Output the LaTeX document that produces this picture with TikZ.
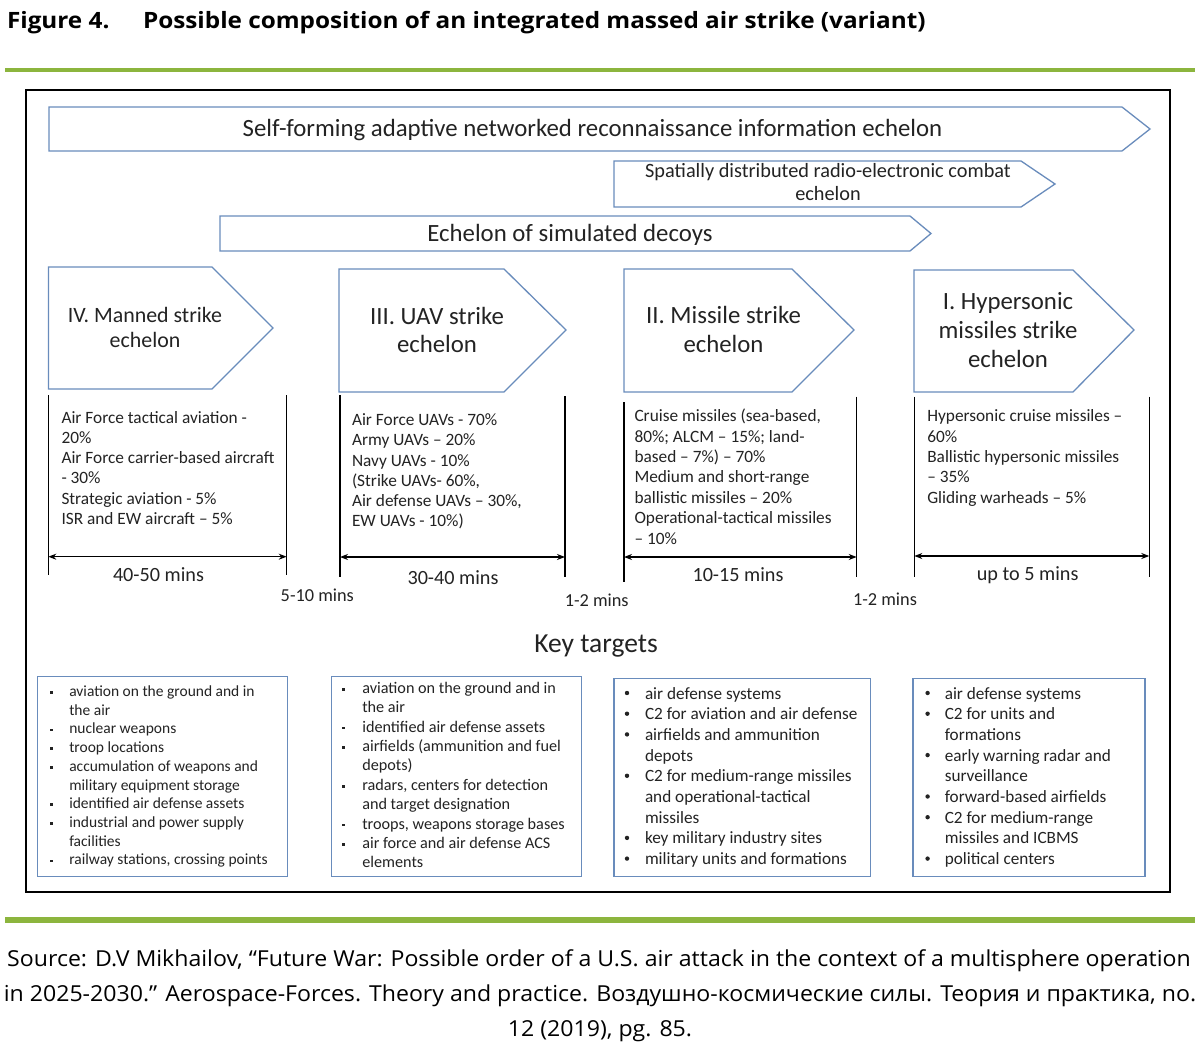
\documentclass[tikz,border=0pt]{standalone}
\usepackage{fontspec}
\setmainfont{Carlito}
\newfontfamily\osanst{Open Sans}[FakeStretch=1.08]
\newfontfamily\osanss{Open Sans}[FakeStretch=1.05]
\usetikzlibrary{arrows.meta}
\definecolor{bluec}{RGB}{105,140,188}
\definecolor{greenc}{RGB}{140,181,62}
\definecolor{txtg}{RGB}{35,35,35}
\newcommand\myfs[1]{\fontsize{#1}{#1}\selectfont}
\tikzset{
  tx/.style={inner sep=0pt, outer sep=0pt, text=txtg},
  small/.style={tx, font=\myfs{17.3}, anchor=base west},
  timel/.style={tx, font=\myfs{20.2}, anchor=base},
  gapl/.style={tx, font=\myfs{18.3}, anchor=base},
  ech/.style={tx, font=\myfs{24.8}, anchor=base},
  srcl/.style={tx, text=black, font=\osanss\myfs{22}, anchor=base},
  ttl/.style={tx, text=black, font=\osanst\bfseries\myfs{22.5}, anchor=base west},
  bluebox/.style={draw=bluec, line width=1.3pt, fill=white},
  vline/.style={draw=black, line width=1.3pt},
  tarrow/.style={{Stealth[length=8pt,width=6pt]}-{Stealth[length=8pt,width=6pt]}, line width=1.3pt, draw=black},
  greenrule/.style={draw=greenc},
}
\begin{document}
\begin{tikzpicture}[x=1pt,y=-1pt]
\useasboundingbox (0,0) rectangle (1200,1059);
\fill[white] (0,0) rectangle (1200,1059);

% title
\node[ttl] (fig) at (7,28.3) {Figure 4.};
\node[ttl] (title) at (143,28.3) {Possible composition of an integrated massed air strike (variant)};

% green rules
\draw[greenrule, line width=4pt] (5,70) -- (1195,70);
\draw[greenrule, line width=6pt] (5,920) -- (1195,920);

% outer frame
\draw[line width=2pt, black] (26,90) rectangle (1170,892);

% banners
\draw[bluebox] (49,107) -- (1122,107) -- (1150,129) -- (1122,151) -- (49,151) -- cycle;
\node[ech] (b1) at (592.5,136.7) {Self-forming adaptive networked reconnaissance information echelon};
\draw[bluebox] (614,161) -- (1021,161) -- (1055,184) -- (1021,207) -- (614,207) -- cycle;
\node[ech, font=\myfs{20.3}] (b2a) at (828,178) {Spatially distributed radio-electronic combat};
\node[ech, font=\myfs{20.3}] (b2b) at (828,201) {echelon};
\draw[bluebox] (220,216) -- (910,216) -- (931,233.5) -- (910,251) -- (220,251) -- cycle;
\node[ech] (b3) at (570,241.7) {Echelon of simulated decoys};

% echelon pentagons
\draw[bluebox] (48.5,267) -- (212,267) -- (273,328) -- (212,389) -- (48.5,389) -- cycle;
\node[ech, font=\myfs{21.9}] (e4a) at (145,322.7) {IV. Manned strike};
\node[ech, font=\myfs{21.9}] (e4b) at (145,347.7) {echelon};
\draw[bluebox] (339,269) -- (504,269) -- (566,330) -- (504,392) -- (339,392) -- cycle;
\node[ech] (e3a) at (437,324.3) {III. UAV strike};
\node[ech] (e3b) at (437,352.7) {echelon};
\draw[bluebox] (624,269) -- (792,269) -- (854,330) -- (792,392) -- (624,392) -- cycle;
\node[ech] (e2a) at (723.5,324) {II. Missile strike};
\node[ech] (e2b) at (723.5,353) {echelon};
\draw[bluebox] (914,270) -- (1073,270) -- (1134,330) -- (1073,392) -- (914,392) -- cycle;
\node[ech] (e1a) at (1008,310) {I. Hypersonic};
\node[ech] (e1b) at (1008,339) {missiles strike};
\node[ech] (e1c) at (1008,368) {echelon};

% timeline vertical lines
\draw[vline] (48.3,395) -- (48.3,575);
\draw[vline] (286.7,395) -- (286.7,575);
\draw[vline] (340,395) -- (340,577);
\draw[vline] (565,396) -- (565,577);
\draw[vline] (624,402) -- (624,582);
\draw[vline] (856.7,396.7) -- (856.7,576.7);
\draw[vline] (914.3,396.7) -- (914.3,576.7);
\draw[vline] (1149.3,396.7) -- (1149.3,576.7);

% arrows
\coordinate (a4l) at (48.3,556.7); \coordinate (a4r) at (286.7,556.7);
\coordinate (a3l) at (340,557); \coordinate (a3r) at (565,557);
\coordinate (a2l) at (624,557); \coordinate (a2r) at (856.7,557);
\coordinate (a1l) at (914.3,556); \coordinate (a1r) at (1149.3,556);
\draw[tarrow] (a4l) -- (a4r);
\draw[tarrow] (a3l) -- (a3r);
\draw[tarrow] (a2l) -- (a2r);
\draw[tarrow] (a1l) -- (a1r);

% time labels
\node[timel] (t4) at (158.5,581.7) {40-50 mins};
\node[gapl] (g43) at (317.3,601) {5-10 mins};
\node[timel] (t3) at (453,584) {30-40 mins};
\node[gapl] (g32) at (596.7,606) {1-2 mins};
\node[timel] (t2) at (738,581.7) {10-15 mins};
\node[gapl] (g21) at (885,605.7) {1-2 mins};
\node[timel] (t1) at (1027.7,580) {up to 5 mins};

% column texts
\foreach \t [count=\i from 0] in {{Air Force tactical aviation -},{20\%},{Air Force carrier-based aircraft},{- 30\%},{Strategic aviation - 5\%},{ISR and EW aircraft – 5\%}}
  \node[small] (c4l\i) at (61.5,423+20.3*\i) {\t};
\foreach \t [count=\i from 0] in {{Air Force UAVs - 70\%},{Army UAVs – 20\%},{Navy UAVs - 10\%},{(Strike UAVs- 60\%,},{Air defense UAVs – 30\%,},{EW UAVs - 10\%)}}
  \node[small] (c3l\i) at (352,425.7+20.2*\i) {\t};
\foreach \t [count=\i from 0] in {{Cruise missiles (sea-based,},{80\%; ALCM – 15\%; land-},{based – 7\%) – 70\%},{Medium and short-range},{ballistic missiles – 20\%},{Operational-tactical missiles},{– 10\%}}
  \node[small] (c2l\i) at (634.5,421.7+20.4*\i) {\t};
\foreach \t [count=\i from 0] in {{Hypersonic cruise missiles –},{60\%},{Ballistic hypersonic missiles},{– 35\%},{Gliding warheads – 5\%}}
  \node[small] (c1l\i) at (927.3,421.7+20.4*\i) {\t};

% key targets
\node[tx, font=\myfs{27.5}, anchor=base] (kt) at (596,652) {Key targets};

\draw[bluebox] (37.3,676.7) rectangle (287.5,876.7);
\draw[bluebox] (331.8,676.7) rectangle (581.6,876.7);
\draw[bluebox] (614,678.3) rectangle (870.5,876.7);
\draw[bluebox] (913,678.3) rectangle (1145,876.7);

\foreach \b/\t [count=\i from 0] in {1/{aviation on the ground and in},0/{the air},1/{nuclear weapons},1/{troop locations},1/{accumulation of weapons and},0/{military equipment storage},1/{identified air defense assets},1/{industrial and power supply},0/{facilities},1/{railway stations, crossing points}}{
  \node[small, font=\myfs{15.5}] (kA\i) at (69.3,696.5+18.7*\i) {\t};
  \ifnum\b=1 \fill[txtg] (50.4,696.5+18.7*\i-5.3) rectangle +(2.6,2.6); \fi
}
\foreach \b/\t [count=\i from 0] in {1/{aviation on the ground and in},0/{the air},1/{identified air defense assets},1/{airfields (ammunition and fuel},0/{depots)},1/{radars, centers for detection},0/{and target designation},1/{troops, weapons storage bases},1/{air force and air defense ACS},0/{elements}}{
  \node[small, font=\myfs{16.2}] (kB\i) at (362.3,693.3+19.4*\i) {\t};
  \ifnum\b=1 \fill[txtg] (342,693.3+19.4*\i-5.3) rectangle +(2.6,2.6); \fi
}
\foreach \b/\t [count=\i from 0] in {1/{air defense systems},1/{C2 for aviation and air defense},1/{airfields and ammunition},0/{depots},1/{C2 for medium-range missiles},0/{and operational-tactical},0/{missiles},1/{key military industry sites},1/{military units and formations}}{
  \node[small, font=\myfs{17.2}] (kC\i) at (645,699+20.7*\i) {\t};
  \ifnum\b=1 \fill[txtg] (627,699+20.7*\i-6) circle (2.2); \fi
}
\foreach \b/\t [count=\i from 0] in {1/{air defense systems},1/{C2 for units and},0/{formations},1/{early warning radar and},0/{surveillance},1/{forward-based airfields},1/{C2 for medium-range},0/{missiles and ICBMS},1/{political centers}}{
  \node[small, font=\myfs{17.2}] (kD\i) at (944.8,699+20.7*\i) {\t};
  \ifnum\b=1 \fill[txtg] (927.6,699+20.7*\i-6) circle (2.2); \fi
}

% source
\node[srcl] (s1) at (599,966.7) {Source: D.V Mikhailov, “Future War: Possible order of a U.S. air attack in the context of a multisphere operation};
\node[srcl] (s2) at (600,1001.7) {in 2025-2030.” Aerospace-Forces. Theory and practice. Воздушно-космические силы. Теория и практика, no.};
\node[srcl] (s3) at (600,1036.7) {12 (2019), pg. 85.};
\end{tikzpicture}
\end{document}
